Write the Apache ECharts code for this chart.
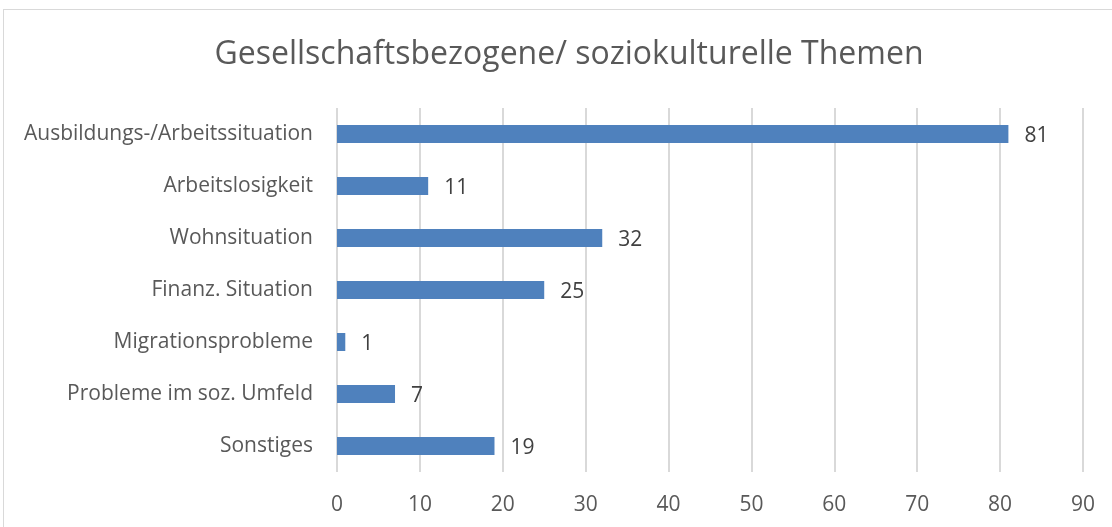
<!DOCTYPE html>
<html><head><meta charset="utf-8">
<script src="https://cdn.jsdelivr.net/npm/echarts@6/dist/echarts.min.js"></script>
<style>
html,body{margin:0;padding:0;background:#fff;overflow:hidden}
#frame{position:absolute;left:3px;top:9px;width:1120px;height:540px;border:1px solid #d9d9d9;box-sizing:border-box}
#c{position:absolute;left:0;top:0;width:1112px;height:527px}
</style></head>
<body>
<div id="frame"></div>
<div id="c"></div>
<script>
const title = 'Gesellschaftsbezogene/ soziokulturelle Themen';
const categories = ['Ausbildungs-/Arbeitssituation','Arbeitslosigkeit','Wohnsituation','Finanz. Situation','Migrationsprobleme','Probleme im soz. Umfeld','Sonstiges'];
const values = [81, 11, 32, 25, 1, 7, 19];
const xTicks = {min: 0, max: 90, interval: 10};

const chart = echarts.init(document.getElementById('c'), null, {renderer:'canvas'});
chart.setOption({
  backgroundColor: 'transparent',
  animation: false,
  title: {
    text: title, left: 564, textAlign: 'center', top: 34,
    textStyle: {fontFamily: 'Open Sans', fontWeight: 'normal', fontSize: 32, color: '#595959'}
  },
  grid: {left: 337, right: 29, top: 108, bottom: 55, containLabel: false},
  xAxis: {
    type: 'value', min: xTicks.min, max: xTicks.max, interval: xTicks.interval,
    axisLine: {show: false}, axisTick: {show: false},
    splitLine: {show: true, lineStyle: {color: '#d9d9d9', width: 2}},
    axisLabel: {fontFamily: 'Open Sans', fontSize: 21, color: '#595959', margin: 23}
  },
  yAxis: {
    type: 'category', data: categories, inverse: true,
    axisLine: {show: false}, axisTick: {show: false},
    axisLabel: {fontFamily: 'Open Sans', fontSize: 21, color: '#595959', margin: 24, padding: [4, 0, 0, 0]}
  },
  series: [{
    type: 'bar', data: values, barWidth: 18,
    itemStyle: {color: '#4f81bd'},
    label: {show: true, position: 'right', distance: 16, offset: [0, 2], fontFamily: 'Open Sans', fontSize: 21, color: '#404040'}
  }]
});
</script>
</body></html>
